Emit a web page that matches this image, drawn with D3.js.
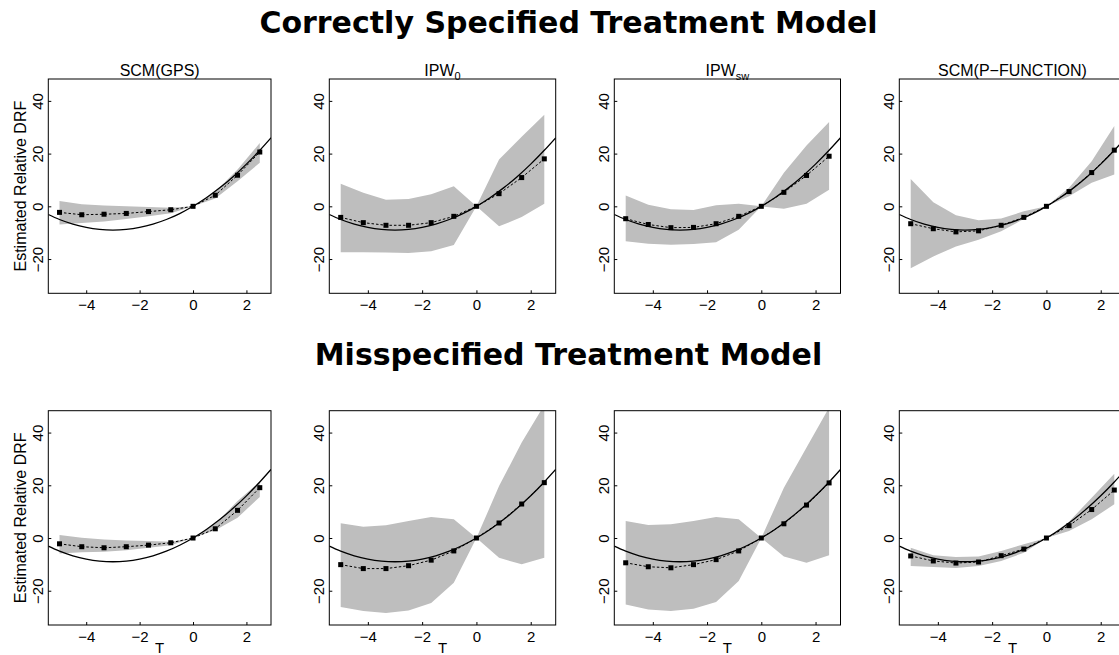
<!DOCTYPE html>
<html>
<head>
<meta charset="utf-8">
<script src="https://cdn.jsdelivr.net/npm/d3@7"></script>
<style>
  html, body { margin: 0; padding: 0; background: #fff; }
  svg { display: block; }
</style>
</head>
<body>
<svg id="chart" width="1119" height="655"></svg>
<script>
// ---------------- DATA ----------------
const rowTitles = ["Correctly Specified Treatment Model", "Misspecified Treatment Model"];
const panelNames = ["SCM(GPS)", "IPW|0", "IPW|sw", "SCM(P\u2212FUNCTION)"];
const xTicks = [-4, -2, 0, 2];
const yTicks = [-20, 0, 20, 40];
const yAxisLabel = "Estimated Relative DRF";
const xAxisLabel = "T";

// evaluation grid of treatment values
const tGrid = [-5, -4.167, -3.333, -2.5, -1.667, -0.833, 0, 0.833, 1.667, 2.5];

// true relative DRF
const trueT = [-5.42, -5, -4.5, -4, -3.5, -3, -2.5, -2, -1.5, -1, -0.5, 0, 0.5, 1, 1.5, 2, 2.5, 2.92];
const trueY = [-3.1, -5, -6.75, -8, -8.75, -9, -8.75, -8, -6.75, -5, -2.75, 0, 3.25, 7, 11.25, 16, 21.25, 26.0];

// Row 1: correctly specified treatment model
const estGpsC  = [-2.3, -3.2, -3.0, -2.7, -2.0, -1.3, 0, 4.2, 11.8, 20.6];
const loGpsC   = [-6.9, -6.3, -5.8, -4.8, -3.8, -2.6, 0, 3.0, 9.5, 16.5];
const hiGpsC   = [2.0, 0.8, 0.3, 0.0, -0.3, -0.5, 0, 5.5, 14.0, 24.0];

const estIpw0C = [-4.2, -6.2, -7.2, -7.2, -6.2, -3.8, 0, 4.8, 10.9, 18.0];
const loIpw0C  = [-17.4, -17.4, -17.5, -17.7, -17.0, -14.7, 0, -7.6, -4.1, 1.0];
const hiIpw0C  = [8.6, 5.1, 2.5, 2.8, 4.6, 7.6, 0, 17.8, 26.4, 34.7];

const estIpwSwC = [-4.7, -6.9, -8.1, -8.0, -6.6, -3.8, 0, 5.3, 11.7, 19.0];
const loIpwSwC  = [-13.3, -14.2, -14.6, -14.3, -13.6, -8.9, 0, -0.9, 1.0, 6.3];
const hiIpwSwC  = [4.1, 0.6, -1.1, -1.4, 0.4, 1.0, 0, 12.7, 23.1, 32.0];

const estPfC = [-6.6, -8.5, -9.7, -9.3, -7.2, -4.2, 0, 5.6, 12.8, 21.3];
const loPfC  = [-23.5, -19.0, -15.2, -12.7, -9.5, -4.8, 0, 3.8, 8.9, 12.1];
const hiPfC  = [10.4, 1.5, -3.4, -5.3, -4.6, -1.9, 0, 7.0, 17.1, 30.5];

// Row 2: misspecified treatment model
const estGpsM  = [-2.2, -3.3, -3.7, -3.3, -2.7, -1.8, 0, 3.5, 10.5, 19.1];
const loGpsM   = [-5.9, -5.4, -5.2, -4.6, -3.7, -2.7, 0, 2.9, 7.7, 15.6];
const hiGpsM   = [1.1, 0.1, -0.6, -0.9, -1.1, -1.4, 0, 5.4, 14.0, 21.4];

const estIpw0M = [-10.1, -11.6, -11.6, -10.5, -8.4, -4.9, 0, 5.7, 12.9, 21.0];
const loIpw0M  = [-26.2, -27.7, -28.4, -27.5, -24.7, -17.0, 0, -7.5, -10.0, -7.5];
const hiIpw0M  = [5.6, 4.3, 4.8, 6.5, 8.0, 7.1, 0, 19.7, 36.2, 50.5];

const estIpwSwM = [-9.4, -10.9, -11.3, -10.1, -8.2, -4.9, 0, 5.4, 12.5, 20.9];
const loIpwSwM  = [-25.2, -27.1, -27.7, -26.8, -24.3, -16.3, 0, -7.0, -9.4, -6.5];
const hiIpwSwM  = [6.5, 4.9, 5.2, 6.5, 8.0, 7.1, 0, 19.1, 34.3, 49.5];

const estPfM = [-6.8, -8.7, -9.5, -9.1, -6.7, -4.2, 0, 4.7, 10.8, 18.2];
const loPfM  = [-10.6, -11.0, -11.4, -10.6, -8.7, -5.6, 0, 2.7, 7.1, 12.8];
const hiPfM  = [-3.7, -6.5, -7.2, -7.0, -4.9, -2.4, 0, 6.2, 15.3, 24.4];

const xDomain = [-5.42, 2.92];
const yDomain = [-33, 48.3];

// ---------------- LAYOUT ----------------
const panelLeft  = [48.3, 329.3, 614.3, 899.3];
const panelWidth = [222.7, 226.4, 226.2, 226.4];
const rowTop = [79, 410.7];
const rowHeight = 214.3;

const rows = [
  [ {est: estGpsC, lo: loGpsC, hi: hiGpsC}, {est: estIpw0C, lo: loIpw0C, hi: hiIpw0C},
    {est: estIpwSwC, lo: loIpwSwC, hi: hiIpwSwC}, {est: estPfC, lo: loPfC, hi: hiPfC} ],
  [ {est: estGpsM, lo: loGpsM, hi: hiGpsM}, {est: estIpw0M, lo: loIpw0M, hi: hiIpw0M},
    {est: estIpwSwM, lo: loIpwSwM, hi: hiIpwSwM}, {est: estPfM, lo: loPfM, hi: hiPfM} ]
];

const svg = d3.select("#chart");
const sansFont = "'Liberation Sans', Arial, Helvetica, sans-serif";

// Row titles
rowTitles.forEach((t, r) => {
  svg.append("text")
    .attr("x", 568.5)
    .attr("y", r === 0 ? 33 : 364.5)
    .attr("text-anchor", "middle")
    .attr("font-family", "'DejaVu Sans', sans-serif")
    .attr("font-weight", "bold")
    .attr("font-size", 30)
    .attr("fill", "#000")
    .text(t);
});

const trueData = trueT.map((t, i) => [t, trueY[i]]);

rows.forEach((row, r) => {
  row.forEach((p, c) => {
    const x0 = panelLeft[c], w = panelWidth[c];
    const y0 = rowTop[r], h = rowHeight;
    const x = d3.scaleLinear().domain(xDomain).range([x0, x0 + w]);
    const y = d3.scaleLinear().domain(yDomain).range([y0 + h, y0]);

    const clipId = `clip-${r}-${c}`;
    svg.append("clipPath").attr("id", clipId)
      .append("rect").attr("x", x0).attr("y", y0).attr("width", w).attr("height", h);

    const g = svg.append("g").attr("clip-path", `url(#${clipId})`);

    // confidence band
    const band = tGrid.map((t, i) => ({t, lo: p.lo[i], hi: p.hi[i]}));
    g.append("path")
      .datum(band)
      .attr("fill", "#bebebe")
      .attr("stroke", "none")
      .attr("d", d3.area().x(d => x(d.t)).y0(d => y(d.lo)).y1(d => y(d.hi)));

    // true curve
    g.append("path")
      .datum(trueData)
      .attr("fill", "none")
      .attr("stroke", "#000")
      .attr("stroke-width", 1.3)
      .attr("d", d3.line().x(d => x(d[0])).y(d => y(d[1])).curve(d3.curveNatural));

    // estimated curve (dashed)
    const est = tGrid.map((t, i) => [t, p.est[i]]);
    g.append("path")
      .datum(est)
      .attr("fill", "none")
      .attr("stroke", "#000")
      .attr("stroke-width", 1)
      .attr("stroke-dasharray", "2.5,2")
      .attr("d", d3.line().x(d => x(d[0])).y(d => y(d[1])));

    // square markers
    const s = 5;
    g.selectAll("rect.pt").data(est).enter().append("rect")
      .attr("class", "pt")
      .attr("x", d => x(d[0]) - s / 2)
      .attr("y", d => y(d[1]) - s / 2)
      .attr("width", s).attr("height", s)
      .attr("fill", "#000");

    // box
    svg.append("rect")
      .attr("x", x0).attr("y", y0).attr("width", w).attr("height", h)
      .attr("fill", "none").attr("stroke", "#000").attr("stroke-width", 1);

    // x axis (ticks inward, labels below)
    const xa = svg.append("g").attr("transform", `translate(0,${y0 + h})`)
      .call(d3.axisBottom(x).tickValues(xTicks).tickSize(-3).tickPadding(0)
        .tickFormat(d => d < 0 ? "\u2212" + Math.abs(d) : String(d)));
    xa.select(".domain").remove();
    xa.selectAll("line").attr("stroke", "#000");
    xa.selectAll("text")
      .attr("font-family", sansFont).attr("font-size", 15).attr("fill", "#000")
      .attr("dy", null).attr("y", 17);

    // y axis (ticks inward, rotated labels)
    const ya = svg.append("g").attr("transform", `translate(${x0},0)`)
      .call(d3.axisLeft(y).tickValues(yTicks).tickSize(-3)
        .tickFormat(d => d < 0 ? "\u2212" + Math.abs(d) : String(d)));
    ya.select(".domain").remove();
    ya.selectAll("line").attr("stroke", "#000");
    ya.selectAll("text")
      .attr("font-family", sansFont).attr("font-size", 15).attr("fill", "#000")
      .attr("x", null).attr("dy", null)
      .attr("text-anchor", "middle")
      .attr("dominant-baseline", "central")
      .attr("transform", "translate(-10.5,0) rotate(-90)");

    // panel title (top row only)
    if (r === 0) {
      const parts = panelNames[c].split("|");
      const tt = svg.append("text")
        .attr("x", x0 + w / 2).attr("y", 76)
        .attr("text-anchor", "middle")
        .attr("font-family", sansFont).attr("font-size", 16).attr("fill", "#000")
        .text(parts[0]);
      if (parts[1]) {
        tt.append("tspan").attr("font-size", 11).attr("dy", 3.5).text(parts[1]);
      }
    }

    // x axis label on bottom row
    if (r === 1) {
      svg.append("text")
        .attr("x", x0 + w / 2).attr("y", 652.5)
        .attr("text-anchor", "middle")
        .attr("font-family", sansFont).attr("font-size", 15).attr("fill", "#000")
        .text(xAxisLabel);
    }

    // y axis label on first column
    if (c === 0) {
      svg.append("text")
        .attr("transform", `translate(20,${y0 + h / 2}) rotate(-90)`)
        .attr("text-anchor", "middle")
        .attr("dominant-baseline", "central")
        .attr("font-family", sansFont).attr("font-size", 16).attr("fill", "#000")
        .text(yAxisLabel);
    }
  });
});
</script>
</body>
</html>
